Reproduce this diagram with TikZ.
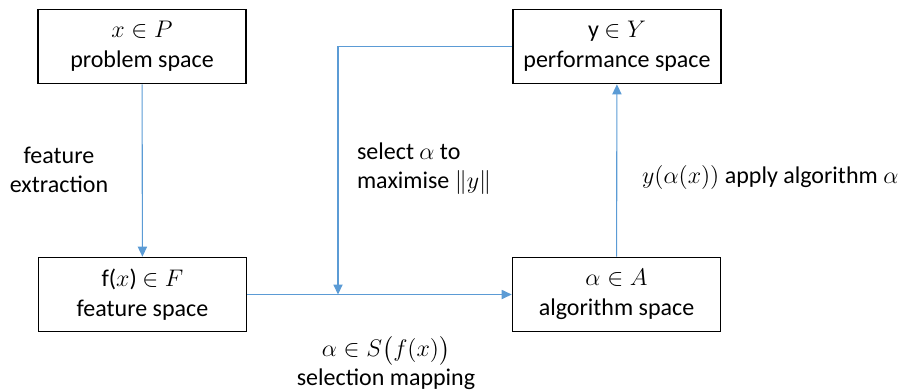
\documentclass[tikz,border=0pt]{standalone}
\usepackage{amsmath, amssymb}
\usepackage{fontspec}
\setmainfont{Carlito}
\usetikzlibrary{arrows.meta, positioning}

\definecolor{linkblue}{RGB}{91,155,213}

\begin{document}
\begin{tikzpicture}[x=0.5pt, y=-0.5pt,
    space/.style={draw, line width=0.8pt, minimum width=104pt, minimum height=37pt,
                  align=center, font=\fontsize{12}{15}\selectfont, inner sep=0pt},
    link/.style={draw=linkblue, line width=0.55pt, -{Triangle[length=5pt, width=4.6pt]}},
    note/.style={font=\fontsize{12}{14.5}\selectfont}]
\useasboundingbox (0,0) rectangle (914,391);

% Draw the four spaces
\foreach \name/\x/\y/\txt in {prob/142/46.5/{$x \in P$\\problem space},
                               perf/617/46.5/{y $\in Y$\\performance space},
                               feat/142.5/294.5/{f($x$) $\in F$\\feature space},
                               algo/616.5/294.5/{$\alpha \in A$\\algorithm space}} {
    \node[space] (\name) at (\x,\y) {\txt};
}

% Connections
\coordinate (join) at (338,294.5);
\draw[link] (prob) -- (feat);
\draw[link] (feat) -- (algo);
\draw[link] (algo) -- (perf);
\draw[link] (perf.west) -| (join);

% Labels
\node[note, align=center] (extract) at (59,170) {feature\\extraction};
\node[note, align=left, anchor=west] (select) at (350,169) {select $\alpha$ to\\maximise $\|y\|$};
\node[note, anchor=west] (apply) at (635,177) {$y(\alpha(x))$ apply algorithm $\alpha$};
\node[note, align=center] (mapping) at (386,363) {$\alpha \in S\big(f(x)\big)$\\selection mapping};
\end{tikzpicture}
\end{document}
